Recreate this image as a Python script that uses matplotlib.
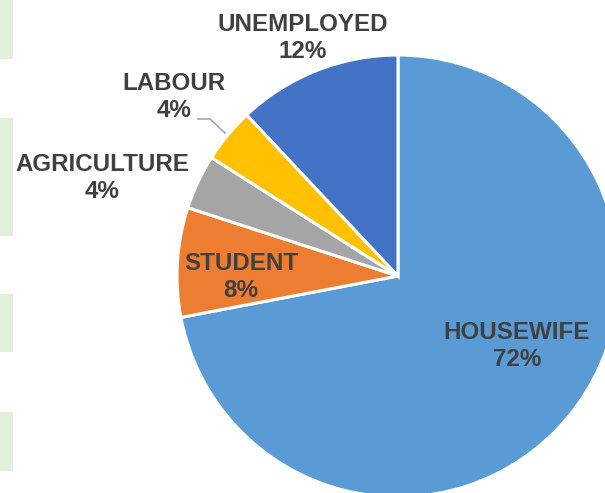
import matplotlib
matplotlib.use("Agg")
import matplotlib.pyplot as plt

# occupation breakdown (percent of respondents)
categories = ["HOUSEWIFE", "STUDENT", "AGRICULTURE", "LABOUR", "UNEMPLOYED"]
shares = [72, 8, 4, 4, 12]
colors = ["#5B9BD5", "#ED7D31", "#A5A5A5", "#FFC000", "#4472C4"]

W, H = 605, 493
fig = plt.figure(figsize=(W / 100, H / 100), dpi=100)
ax = fig.add_axes([0, 0, 1, 1])

# pale cells peeking in from the sheet on the left
for top, bottom in [(0, 59), (118, 236), (294, 352), (412, 471)]:
    ax.add_patch(plt.Rectangle((0, H - bottom), 13, bottom - top,
                               color="#E2EFDA", lw=0))

cx, cy, r = 398, H - 276, 221
ax.pie(shares, colors=colors, startangle=90, counterclock=False,
       center=(cx, cy), radius=r, frame=True,
       wedgeprops=dict(edgecolor="white", linewidth=2.2))
ax.set_xlim(0, W)
ax.set_ylim(0, H)
ax.set_aspect("auto")
ax.axis("off")

# label centres in pixel coordinates (x, y from top)
label_pos = [(517, 346), (241, 277), (102, 178), (174, 97), (303, 38)]
for name, val, (x, y) in zip(categories, shares, label_pos):
    ax.text(x, H - y, f"{name}\n{val}%", ha="center", va="center",
            fontsize=17.4, fontweight="bold", color="#404040",
            family="Liberation Sans", linespacing=1.2)

# leader line for the LABOUR label
ax.plot([198, 210, 225], [H - 119, H - 119, H - 133], color="#A6A6A6", lw=1.2)

fig.savefig("out.png", dpi=100)
